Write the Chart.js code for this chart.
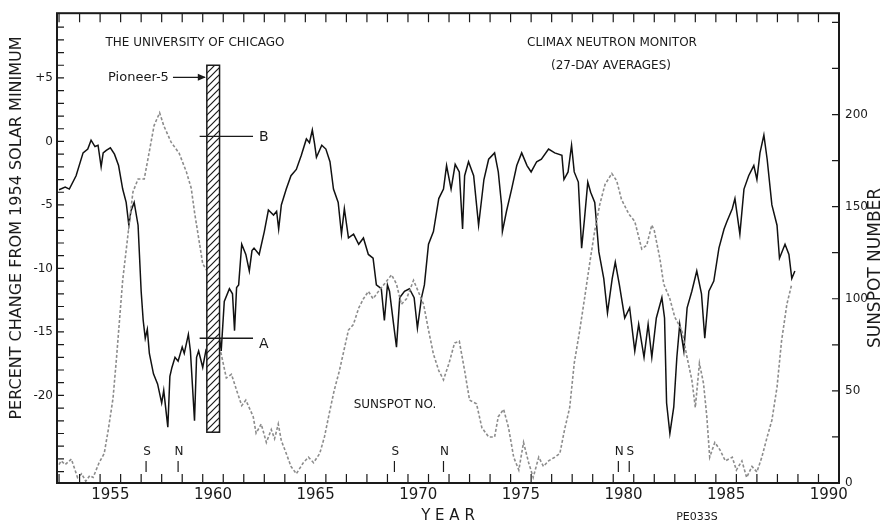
<!DOCTYPE html>
<html>
<head>
<meta charset="utf-8">
<script src="https://cdn.jsdelivr.net/npm/chart.js@4.4.0/dist/chart.umd.min.js"></script>
<style>
    body { margin: 0; background: #fff; }
    #wrap { width: 885px; height: 530px; }
</style>
</head>
<body>
<div id="wrap"><canvas id="chart"></canvas></div>
<script>
// Climax neutron monitor, 27-day averages (% change from 1954 solar minimum)
const neutronYears = [
    1953.0, 1953.3, 1953.5, 1953.83, 1954.17, 1954.4, 1954.56, 1954.75, 1954.9, 1955.05,
    1955.15, 1955.3, 1955.5, 1955.7, 1955.9, 1956.1, 1956.27, 1956.4, 1956.5, 1956.66,
    1956.85, 1957.0, 1957.1, 1957.2, 1957.3, 1957.4, 1957.6, 1957.8, 1958.0, 1958.1,
    1958.3, 1958.4, 1958.5, 1958.65, 1958.8, 1959.0, 1959.1, 1959.3, 1959.4, 1959.6,
    1959.7, 1959.8, 1960.0, 1960.15, 1960.27, 1960.5, 1960.75, 1960.9, 1961.05, 1961.3,
    1961.45, 1961.55, 1961.65, 1961.75, 1961.9, 1962.1, 1962.27, 1962.4, 1962.5, 1962.75,
    1963.0, 1963.2, 1963.45, 1963.6, 1963.7, 1963.83, 1964.07, 1964.3, 1964.56, 1964.8,
    1965.05, 1965.2, 1965.34, 1965.45, 1965.54, 1965.8, 1966.0, 1966.2, 1966.37, 1966.6,
    1966.76, 1966.9, 1967.1, 1967.35, 1967.6, 1967.83, 1968.07, 1968.3, 1968.46, 1968.7,
    1968.85, 1969.0, 1969.1, 1969.3, 1969.44, 1969.6, 1969.83, 1970.07, 1970.3, 1970.46,
    1970.66, 1970.8, 1971.0, 1971.24, 1971.5, 1971.73, 1971.88, 1972.1, 1972.3, 1972.5,
    1972.66, 1972.76, 1972.95, 1973.2, 1973.44, 1973.7, 1973.93, 1974.22, 1974.4, 1974.56,
    1974.6, 1974.8, 1975.05, 1975.3, 1975.54, 1975.8, 1976.0, 1976.27, 1976.5, 1976.85,
    1977.15, 1977.5, 1977.6, 1977.8, 1977.97, 1978.1, 1978.3, 1978.46, 1978.6, 1978.76,
    1978.9, 1979.1, 1979.3, 1979.54, 1979.72, 1979.95, 1980.1, 1980.3, 1980.56, 1980.8,
    1981.05, 1981.24, 1981.5, 1981.7, 1981.88, 1982.1, 1982.37, 1982.5, 1982.6, 1982.76,
    1982.95, 1983.1, 1983.24, 1983.44, 1983.6, 1983.83, 1984.07, 1984.3, 1984.46, 1984.66,
    1984.9, 1985.15, 1985.4, 1985.54, 1985.8, 1985.93, 1986.17, 1986.37, 1986.6, 1986.85,
    1987.0, 1987.15, 1987.34, 1987.5, 1987.73, 1987.98, 1988.1, 1988.37, 1988.56, 1988.7,
    1988.85
];
const neutronPct = [
    -3.8, -3.6, -3.75, -2.7, -0.9, -0.6, 0.1, -0.4, -0.3, -2.0,
    -0.9, -0.7, -0.5, -1.0, -1.9, -3.75, -4.8, -6.6, -5.5, -4.8,
    -6.6, -11.8, -14.1, -15.5, -14.8, -16.7, -18.3, -19.1, -20.6, -19.6,
    -22.5, -18.5, -17.8, -17.0, -17.3, -16.2, -16.7, -15.2, -16.5, -22.0,
    -17.0, -16.5, -17.8, -16.5, -17.0, -16.0, -14.7, -16.5, -12.6, -11.6,
    -12.0, -14.9, -11.5, -11.3, -8.1, -8.9, -10.2, -8.6, -8.4, -8.9,
    -7.1, -5.4, -5.8, -5.5, -6.9, -5.0, -3.75, -2.7, -2.2, -1.1,
    0.2, -0.1, 0.9, -0.2, -1.25, -0.3, -0.6, -1.6, -3.75, -4.8,
    -7.3, -5.3, -7.6, -7.3, -8.1, -7.6, -8.9, -9.2, -11.3, -11.6,
    -14.1, -11.3, -11.8, -14.4, -16.2, -12.3, -11.8, -11.6, -12.3, -14.7,
    -12.3, -11.3, -8.1, -7.1, -4.5, -3.75, -1.9, -3.75, -1.8, -2.4,
    -6.9, -2.7, -1.6, -2.7, -6.6, -3.0, -1.4, -0.9, -2.4, -5.0,
    -7.1, -5.5, -3.75, -1.9, -0.9, -1.9, -2.4, -1.6, -1.4, -0.6,
    -0.9, -1.1, -3.0, -2.4, -0.3, -2.4, -3.2, -8.4, -6.1, -3.2,
    -4.0, -4.8, -8.7, -10.8, -13.5, -10.8, -9.5, -11.3, -13.9, -13.1,
    -16.5, -14.4, -17.0, -14.4, -17.0, -13.9, -12.3, -13.9, -20.6, -23.0,
    -20.9, -17.0, -14.4, -16.5, -13.1, -11.8, -10.2, -12.0, -15.5, -11.8,
    -11.0, -8.4, -6.9, -6.3, -5.3, -4.5, -7.3, -3.75, -2.7, -1.9,
    -3.0, -0.9, 0.5, -1.4, -5.0, -6.6, -9.2, -8.1, -8.9, -10.8,
    -10.2
];

// Sunspot number
const sunspotYears = [
    1953.0, 1953.1, 1953.3, 1953.6, 1953.9, 1954.1, 1954.3, 1954.5, 1954.66, 1954.95,
    1955.2, 1955.4, 1955.63, 1955.8, 1956.1, 1956.37, 1956.6, 1956.85, 1957.15, 1957.4,
    1957.63, 1957.9, 1958.1, 1958.46, 1958.85, 1959.2, 1959.44, 1959.6, 1959.8, 1960.0,
    1960.27, 1960.5, 1960.75, 1960.9, 1961.15, 1961.4, 1961.66, 1961.9, 1962.1, 1962.3,
    1962.46, 1962.6, 1962.85, 1963.1, 1963.34, 1963.5, 1963.68, 1963.83, 1964.07, 1964.3,
    1964.56, 1964.9, 1965.15, 1965.4, 1965.7, 1965.93, 1966.17, 1966.4, 1966.66, 1966.9,
    1967.1, 1967.34, 1967.6, 1967.83, 1968.07, 1968.3, 1968.56, 1968.85, 1969.2, 1969.44,
    1969.68, 1969.93, 1970.27, 1970.5, 1970.76, 1971.0, 1971.24, 1971.5, 1971.73, 1972.0,
    1972.27, 1972.5, 1972.76, 1973.0, 1973.34, 1973.6, 1973.93, 1974.22, 1974.4, 1974.66,
    1974.9, 1975.15, 1975.4, 1975.63, 1975.88, 1976.1, 1976.37, 1976.6, 1976.85, 1977.15,
    1977.4, 1977.63, 1977.88, 1978.1, 1978.37, 1978.6, 1978.85, 1979.1, 1979.34, 1979.6,
    1979.93, 1980.17, 1980.4, 1980.76, 1981.05, 1981.39, 1981.63, 1981.88, 1982.0, 1982.27,
    1982.46, 1982.76, 1983.0, 1983.34, 1983.6, 1983.83, 1984.0, 1984.2, 1984.4, 1984.56,
    1984.7, 1984.95, 1985.2, 1985.46, 1985.8, 1986.0, 1986.27, 1986.5, 1986.76, 1987.0,
    1987.24, 1987.5, 1987.73, 1987.98, 1988.2, 1988.46, 1988.7
];
const sunspotNum = [
    10, 12, 10, 13, 3, 5, 1, 4, 3, 11,
    16, 29, 46, 68, 110, 136, 158, 165, 165, 180,
    194, 201, 194, 185, 179, 169, 160, 147, 133, 119,
    114, 96, 76, 70, 57, 59, 50, 42, 45, 40,
    36, 27, 32, 22, 29, 24, 32, 23, 16, 9,
    5, 11, 14, 11, 16, 25, 38, 50, 61, 73,
    83, 86, 95, 100, 104, 100, 104, 108, 113, 108,
    97, 100, 110, 104, 97, 83, 70, 61, 56, 65,
    76, 77, 61, 45, 43, 30, 25, 25, 36, 40,
    30, 14, 7, 22, 11, 3, 14, 9, 12, 14,
    16, 29, 41, 65, 83, 100, 119, 137, 151, 162,
    168, 164, 154, 146, 142, 127, 129, 140, 137, 122,
    108, 100, 90, 83, 68, 56, 41, 65, 54, 36,
    14, 22, 18, 12, 14, 7, 12, 3, 9, 6,
    14, 25, 34, 52, 77, 97, 108
];

const yearLabels = [1955, 1960, 1965, 1970, 1975, 1980, 1985, 1990];
const pctLabels = [-20, -15, -10, -5, 0, 5];
const sunspotLabels = [0, 50, 100, 150, 200];

// Pioneer-5 interval and the A / B levels
const pioneerSpan = [1960.2, 1960.82];
const pioneerRange = [-22.9, 6.0];
const levelA = -15.5;
const levelB = 0.4;

// field reversal markers
const reversalYears = [1957.24, 1958.8, 1969.34, 1971.73, 1980.25, 1980.78];
const reversalPoles = ['S', 'N', 'S', 'N', 'N', 'S'];

function makeHatch() {
    const c = document.createElement('canvas');
    c.width = 7; c.height = 7;
    const g = c.getContext('2d');
    g.fillStyle = '#fff';
    g.fillRect(0, 0, 7, 7);
    g.strokeStyle = '#1a1a1a';
    g.lineWidth = 1.2;
    g.beginPath();
    g.moveTo(-1, 8); g.lineTo(8, -1);
    g.moveTo(-1, 1); g.lineTo(1, -1);
    g.moveTo(6, 8); g.lineTo(8, 6);
    g.stroke();
    return c;
}

const decorPlugin = {
    id: 'decor',
    afterDatasetsDraw(chart) {
        const { ctx, chartArea: a, scales } = chart;
        const x = scales.x, y = scales.y, y2 = scales.y2;
        ctx.save();
        ctx.strokeStyle = '#1a1a1a';
        ctx.fillStyle = '#1a1a1a';

        // frame
        ctx.lineWidth = 2;
        ctx.strokeRect(a.left, a.top, a.right - a.left, a.bottom - a.top);

        // inward tick marks
        ctx.lineWidth = 1.2;
        ctx.beginPath();
        for (let yr = Math.ceil(x.min); yr <= Math.floor(x.max); yr++) {
            const px = x.getPixelForValue(yr);
            ctx.moveTo(px, a.bottom); ctx.lineTo(px, a.bottom - 9);
            ctx.moveTo(px, a.top); ctx.lineTo(px, a.top + 9);
        }
        for (let v = -26; v <= 9; v++) {
            const py = y.getPixelForValue(v);
            ctx.moveTo(a.left, py); ctx.lineTo(a.left + 7, py);
        }
        for (let v = 0; v <= 250; v += 25) {
            const py = y2.getPixelForValue(v);
            ctx.moveTo(a.right, py); ctx.lineTo(a.right - 7, py);
        }
        ctx.stroke();

        // Pioneer-5 hatched bar
        const bx0 = x.getPixelForValue(pioneerSpan[0]);
        const bx1 = x.getPixelForValue(pioneerSpan[1]);
        const by0 = y.getPixelForValue(pioneerRange[1]);
        const by1 = y.getPixelForValue(pioneerRange[0]);
        ctx.fillStyle = ctx.createPattern(makeHatch(), 'repeat');
        ctx.fillRect(bx0, by0, bx1 - bx0, by1 - by0);
        ctx.lineWidth = 1.5;
        ctx.strokeRect(bx0, by0, bx1 - bx0, by1 - by0);
        ctx.fillStyle = '#1a1a1a';

        // A and B levels
        const lx0 = x.getPixelForValue(1959.85);
        const lx1 = x.getPixelForValue(1962.45);
        ctx.lineWidth = 1.3;
        ctx.beginPath();
        [levelA, levelB].forEach(v => {
            const py = y.getPixelForValue(v);
            ctx.moveTo(lx0, py); ctx.lineTo(lx1, py);
        });
        ctx.stroke();
        ctx.font = '14px "DejaVu Sans"';
        ctx.textAlign = 'left';
        ctx.textBaseline = 'middle';
        ctx.fillText('B', lx1 + 6, y.getPixelForValue(levelB) + 1);
        ctx.fillText('A', lx1 + 6, y.getPixelForValue(levelA) + 6);

        // Pioneer-5 label and arrow
        const ay = y.getPixelForValue(5.05);
        ctx.font = '13px "DejaVu Sans"';
        ctx.textAlign = 'right';
        ctx.fillText('Pioneer-5', x.getPixelForValue(1958.35), ay);
        ctx.beginPath();
        ctx.moveTo(x.getPixelForValue(1958.55), ay);
        ctx.lineTo(bx0 - 2, ay);
        ctx.stroke();
        ctx.beginPath();
        ctx.moveTo(bx0 - 1, ay);
        ctx.lineTo(bx0 - 9, ay - 3.5);
        ctx.lineTo(bx0 - 9, ay + 3.5);
        ctx.closePath();
        ctx.fill();

        // texts inside the plot
        ctx.textAlign = 'center';
        ctx.font = '12px "DejaVu Sans"';
        ctx.fillText('THE UNIVERSITY OF CHICAGO', 195, 43);
        ctx.fillText('CLIMAX NEUTRON MONITOR', 612, 43);
        ctx.fillText('(27-DAY AVERAGES)', 611, 66);
        ctx.fillText('SUNSPOT NO.', 395, 405);

        // reversal markers
        ctx.font = '12px "DejaVu Sans"';
        ctx.lineWidth = 1.2;
        reversalYears.forEach((yr, i) => {
            const px = x.getPixelForValue(yr);
            ctx.fillText(reversalPoles[i], px + 1, a.bottom - 31);
            ctx.beginPath();
            ctx.moveTo(px, a.bottom - 22);
            ctx.lineTo(px, a.bottom - 11);
            ctx.stroke();
        });

        // axis titles
        ctx.font = '16px "DejaVu Sans"';
        ctx.save();
        ctx.translate(17, 228);
        ctx.rotate(-Math.PI / 2);
        ctx.fillText('PERCENT CHANGE FROM 1954 SOLAR MINIMUM', 0, 0);
        ctx.restore();
        ctx.save();
        ctx.translate(876, 268);
        ctx.rotate(-Math.PI / 2);
        ctx.font = '17px "DejaVu Sans"';
        ctx.fillText('SUNSPOT NUMBER', 0, 0);
        ctx.restore();

        ctx.font = '15px "DejaVu Sans"';
        ctx.fillText('Y E A R', 448, 516);
        ctx.font = '11px "DejaVu Sans"';
        ctx.fillText('PE033S', 697, 517);
        ctx.restore();
    }
};

const neutronPoints = neutronYears.map((yr, i) => ({ x: yr, y: neutronPct[i] }));
const sunspotPoints = sunspotYears.map((yr, i) => ({ x: yr, y: sunspotNum[i] }));

const tickFont = { family: 'DejaVu Sans', size: 12 };

new Chart(document.getElementById('chart'), {
    type: 'line',
    data: {
        datasets: [
            {
                label: 'Sunspot number',
                data: sunspotPoints,
                yAxisID: 'y2',
                borderColor: '#8c8c8c',
                borderWidth: 1.6,
                borderDash: [3, 2],
                pointRadius: 0,
                tension: 0
            },
            {
                label: 'Climax neutron monitor',
                data: neutronPoints,
                yAxisID: 'y',
                borderColor: '#111',
                borderWidth: 1.5,
                pointRadius: 0,
                tension: 0
            }
        ]
    },
    options: {
        responsive: true,
        maintainAspectRatio: false,
        animation: false,
        layout: { padding: { top: 10, left: 0, right: 0, bottom: 0 } },
        plugins: { legend: { display: false }, tooltip: { enabled: false } },
        scales: {
            x: {
                type: 'linear',
                position: 'bottom',
                min: 1952.9,
                max: 1991.0,
                grid: { display: false, drawTicks: false },
                border: { display: false },
                afterBuildTicks: s => { s.ticks = yearLabels.map(v => ({ value: v + 0.5 })); },
                afterFit: s => { s.height = 47; },
                ticks: {
                    autoSkip: false,
                    maxRotation: 0,
                    padding: 3,
                    color: '#1a1a1a',
                    font: { family: 'DejaVu Sans', size: 15 },
                    callback: v => String(Math.round(v - 0.5))
                }
            },
            y: {
                position: 'left',
                min: -26.9,
                max: 10.1,
                grid: { display: false, drawTicks: false },
                border: { display: false },
                afterBuildTicks: s => { s.ticks = pctLabels.map(v => ({ value: v })); },
                afterFit: s => { s.width = 57; },
                ticks: {
                    padding: 4,
                    color: '#1a1a1a',
                    font: tickFont,
                    callback: v => (v > 0 ? '+' + v : String(v))
                }
            },
            y2: {
                position: 'right',
                min: 0,
                max: 255,
                grid: { display: false, drawTicks: false },
                border: { display: false },
                afterBuildTicks: s => { s.ticks = sunspotLabels.map(v => ({ value: v })); },
                afterFit: s => { s.width = 46; },
                ticks: {
                    padding: 6,
                    color: '#1a1a1a',
                    font: tickFont
                }
            }
        }
    },
    plugins: [decorPlugin]
});
</script>
</body>
</html>
